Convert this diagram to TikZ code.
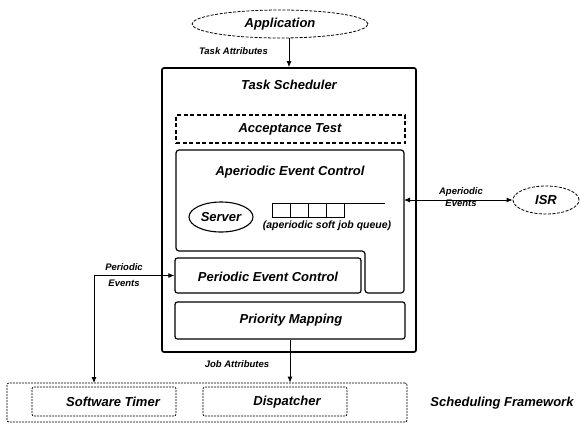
\documentclass[tikz,border=0pt]{standalone}
\usepackage{fontspec}
\setmainfont{Liberation Sans}
\usetikzlibrary{shapes.geometric,arrows.meta}
\begin{document}
\begin{tikzpicture}[x=1pt,y=-1pt,
  lbl/.style={font=\fontsize{13}{15}\selectfont\bfseries\itshape, inner sep=0pt},
  qlbl/.style={font=\fontsize{10.5}{12}\selectfont\bfseries\itshape, inner sep=0pt},
  slbl/.style={font=\fontsize{9.5}{11}\selectfont\bfseries\itshape, inner sep=0pt, align=center},
  outerbox/.style={draw, line width=1.7pt, rounded corners=2pt, inner sep=0pt},
  solidbox/.style={draw, line width=1.2pt, rounded corners=2.5pt, inner sep=0pt},
  dashbox/.style={draw, line width=1.3pt, dash pattern=on 4pt off 2.5pt, inner sep=0pt},
  finebox/.style={draw, line width=0.7pt, dash pattern=on 2pt off 1pt, rounded corners=2pt, inner sep=0pt},
  dashell/.style={ellipse, draw, line width=0.8pt, dash pattern=on 3pt off 1.5pt, inner sep=0pt},
  solidell/.style={ellipse, draw, line width=1.1pt, inner sep=0pt},
  arr/.style={line width=0.9pt, -{Latex[length=6pt,width=5pt]}},
  darr/.style={line width=0.9pt, {Latex[length=6pt,width=5pt]}-{Latex[length=6pt,width=5pt]}}
]
\useasboundingbox (0,0) rectangle (580,424);
\fill[white] (0,0) rectangle (580,424);

% Application
\node[dashell, lbl, minimum width=176pt, minimum height=28pt] (app) at (280,24) {Application};

% Task scheduler outer box
\node[outerbox, minimum width=254pt, minimum height=284pt] (ts) at (289,210) {};
\node[lbl] (tstitle) at (289,85) {Task Scheduler};
\draw[arr] (app.south -| ts.north) -- (ts.north);
\node[slbl, anchor=east] (taskattr) at (268,51) {Task Attributes};

% Acceptance test
\node[dashbox, minimum width=229pt, minimum height=28pt] (acc) at (290.5,129) {};
\node[lbl] (acctitle) at (290,129) {Acceptance Test};

% Aperiodic event control (L-shaped)
\coordinate (ap1) at (176,150);
\coordinate (ap2) at (404,150);
\coordinate (ap3) at (404,293);
\coordinate (ap4) at (365,293);
\coordinate (ap5) at (365,251);
\coordinate (ap6) at (176,251);
\draw[line width=1.2pt, rounded corners=3pt] (ap1) -- (ap2) -- (ap3) -- (ap4) -- (ap5) -- (ap6) -- cycle;
\node[lbl] (aptitle) at (290,172) {Aperiodic Event Control};

% Server
\node[solidell, lbl, minimum width=64pt, minimum height=30pt] (server) at (221,217) {Server};

% Queue
\coordinate (q0) at (272,203);
\coordinate (qend) at (385,203);
\draw[line width=1pt] (qend) -- (q0) -- (272,217) -- (344,217) -- (344,203);
\foreach \qx in {290,308,326} \draw[line width=1pt] (\qx,203) -- (\qx,217);
\node[qlbl] (qlabel) at (327,226) {(aperiodic soft job queue)};

% Periodic event control
\node[solidbox, minimum width=186pt, minimum height=35pt] (pec) at (268,275.5) {};
\node[lbl] (pectitle) at (268,277) {Periodic Event Control};

% Priority mapping
\node[solidbox, minimum width=230pt, minimum height=37pt] (pm) at (290,320.5) {};
\node[lbl] (pmtitle) at (291,320) {Priority Mapping};

% ISR
\node[dashell, lbl, minimum width=66pt, minimum height=28pt] (isr) at (546,200) {ISR};
\coordinate (apin) at (404,200);
\draw[darr] (apin) -- (isr.west);
\node[slbl, font=\fontsize{9.5}{11.5}\selectfont\bfseries\itshape] (apev) at (461,197) {Aperiodic\\Events};

% Scheduling framework
\node[finebox, minimum width=400pt, minimum height=39pt] (fw) at (207,402.5) {};
\node[finebox, minimum width=144pt, minimum height=29pt] (st) at (104,401.5) {};
\node[lbl] (sttitle) at (113,402) {Software Timer};
\node[finebox, minimum width=144pt, minimum height=29pt] (disp) at (275,401.5) {};
\node[lbl] (disptitle) at (287,402) {Dispatcher};
\node[lbl] (fwtitle) at (502,403) {Scheduling Framework};

% Periodic events connector
\coordinate (ptimer) at (94,383);
\draw[darr] (ptimer) |- (pec.west);
\node[slbl, font=\fontsize{9.5}{16}\selectfont\bfseries\itshape] (pev) at (124,275) {Periodic\\Events};

% Job attributes connector
\draw[arr] (pm.south) -- (pm.south |- fw.north);
\node[slbl] (jobattr) at (237,364) {Job Attributes};
\end{tikzpicture}
\end{document}
